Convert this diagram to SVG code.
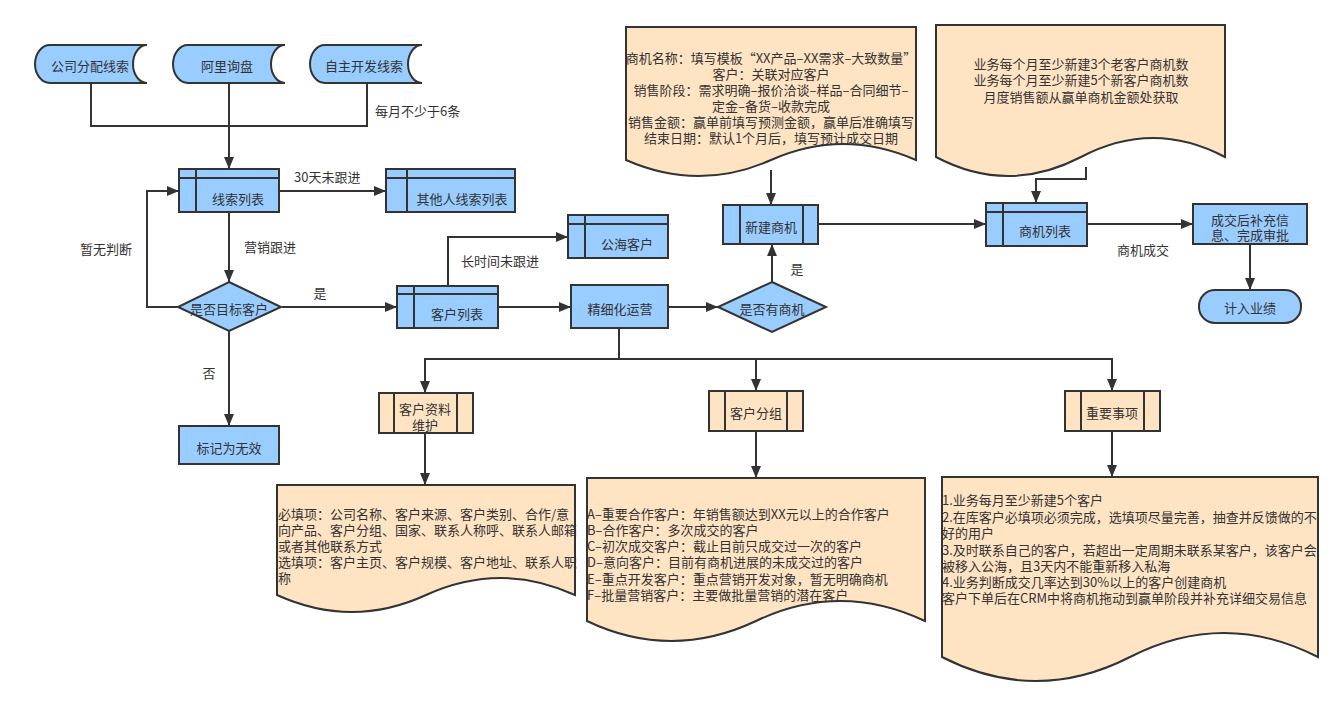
<svg xmlns="http://www.w3.org/2000/svg" width="1342" height="707" viewBox="0 0 1342 707">
<defs>
<marker id="arr" viewBox="0 0 12 10" refX="12" refY="5" markerWidth="12" markerHeight="10" markerUnits="userSpaceOnUse" orient="auto">
<path d="M0,0 L12,5 L0,10 Z" fill="#333333"/>
</marker>
<style>
.b{fill:#99CCFF;stroke:#333333;stroke-width:2}
.p{fill:#FFE4C4;stroke:#333333;stroke-width:2}
.ln{fill:none;stroke:#333333;stroke-width:2}
.c{fill:none;stroke:#333333;stroke-width:2}
.ca{fill:none;stroke:#333333;stroke-width:2;marker-end:url(#arr)}
text{font-family:"Noto Sans CJK SC","Noto Sans",sans-serif;font-size:13px;fill:#333333;dominant-baseline:central}
.m{text-anchor:middle}
</style>
</defs>
<rect width="1342" height="707" fill="#ffffff"/>

<g id="connectors">
<path class="c" d="M91,83 V126 H367 V83"/>
<path class="ca" d="M229,83 V169"/>
<path class="ca" d="M279,191 H386"/>
<path class="ca" d="M229,212 V282"/>
<path class="ca" d="M178,307 H147 V191 H179"/>
<path class="ca" d="M229,331 V426"/>
<path class="ca" d="M282,307 H397"/>
<path class="ca" d="M448,286 V237 H568"/>
<path class="ca" d="M498,307 H571"/>
<path class="ca" d="M668,307 H718"/>
<path class="ca" d="M772,282 V244"/>
<path class="ca" d="M771,170 V205"/>
<path class="ca" d="M818,224 H986"/>
<path class="ca" d="M1086,167 V179 H1036 V203"/>
<path class="ca" d="M1087,224 H1193"/>
<path class="ca" d="M1250,244 V290"/>
<path class="ca" d="M619,328 V359 H425 V393"/>
<path class="ca" d="M619,359 H756 V391"/>
<path class="ca" d="M756,359 H1112 V391"/>
<path class="ca" d="M425,433 V485"/>
<path class="ca" d="M756,431 V478"/>
<path class="ca" d="M1112,431 V477"/>
<text x="375" y="110">每月不少于6条</text>
<text x="294" y="176">30天未跟进</text>
<text x="80" y="248">暂无判断</text>
<text x="244" y="246">营销跟进</text>
<text class="m" x="320" y="292">是</text>
<text class="m" x="209" y="372">否</text>
<text x="461" y="260">长时间未跟进</text>
<text class="m" x="797" y="268">是</text>
<text x="1117" y="249">商机成交</text>
</g>

<g id="n-src1">
<path class="b" d="M50,45 H147 A14,19 0 0 0 147,83 H50 A15,19 0 0 1 50,45 Z"/>
<text class="m" x="90" y="65">公司分配线索</text>
</g>
<g id="n-src2">
<path class="b" d="M188,45 H285 A14,19 0 0 0 285,83 H188 A15,19 0 0 1 188,45 Z"/>
<text class="m" x="227" y="65">阿里询盘</text>
</g>
<g id="n-src3">
<path class="b" d="M325,45 H422 A14,19 0 0 0 422,83 H325 A15,19 0 0 1 325,45 Z"/>
<text class="m" x="364" y="65">自主开发线索</text>
</g>

<g id="n-leads">
<rect class="b" x="179" y="169" width="100" height="43"/>
<path class="ln" d="M179,178 H279 M196,169 V212"/>
<text class="m" x="238" y="198">线索列表</text>
</g>
<g id="n-others">
<rect class="b" x="386" y="169" width="129" height="43"/>
<path class="ln" d="M386,178 H515 M407,169 V212"/>
<text class="m" x="462" y="198">其他人线索列表</text>
</g>
<g id="n-target">
<path class="b" d="M229,282 L281,307 L229,331 L178,307 Z"/>
<text class="m" x="229" y="308">是否目标客户</text>
</g>
<g id="n-invalid">
<rect class="b" x="179" y="426" width="100" height="38"/>
<text class="m" x="229" y="447">标记为无效</text>
</g>
<g id="n-customers">
<rect class="b" x="397" y="286" width="101" height="42"/>
<path class="ln" d="M397,294 H498 M414,286 V328"/>
<text class="m" x="457" y="313">客户列表</text>
</g>
<g id="n-pool">
<rect class="b" x="568" y="215" width="100" height="43"/>
<path class="ln" d="M568,224 H668 M585,215 V258"/>
<text class="m" x="627" y="243">公海客户</text>
</g>
<g id="n-ops">
<rect class="b" x="571" y="285" width="97" height="43"/>
<text class="m" x="620" y="308">精细化运营</text>
</g>
<g id="n-hasopp">
<path class="b" d="M772,282 L826,307 L772,332 L718,307 Z"/>
<text class="m" x="772" y="308">是否有商机</text>
</g>
<g id="n-newopp">
<rect class="b" x="723" y="205" width="95" height="39"/>
<path class="ln" d="M740,205 V244 M803,205 V244"/>
<text class="m" x="771" y="226">新建商机</text>
</g>
<g id="n-oppdoc">
<path class="p" d="M626,27 H916 V160 Q843,128 771,160 Q699,192 626,160 Z"/>
<text class="m" x="771" y="57">商机名称：填写模板“XX产品–XX需求–大致数量”</text>
<text class="m" x="771" y="73">客户：关联对应客户</text>
<text class="m" x="771" y="89">销售阶段：需求明确–报价洽谈–样品–合同细节–</text>
<text class="m" x="771" y="105">定金–备货–收款完成</text>
<text class="m" x="771" y="121">销售金额：赢单前填写预测金额，赢单后准确填写</text>
<text class="m" x="771" y="137">结束日期：默认1个月后，填写预计成交日期</text>
</g>
<g id="n-kpidoc">
<path class="p" d="M936,25 H1225 V157 Q1153,119 1081,157 Q1008,195 936,157 Z"/>
<text class="m" x="1081" y="63">业务每个月至少新建3个老客户商机数</text>
<text class="m" x="1081" y="79">业务每个月至少新建5个新客户商机数</text>
<text class="m" x="1081" y="96">月度销售额从赢单商机金额处获取</text>
</g>
<g id="n-opplist">
<rect class="b" x="986" y="203" width="101" height="43"/>
<path class="ln" d="M986,212 H1087 M1003,203 V246"/>
<text class="m" x="1045" y="230">商机列表</text>
</g>
<g id="n-approve">
<rect class="b" x="1193" y="204" width="114" height="40"/>
<text class="m" x="1250" y="219">成交后补充信</text>
<text class="m" x="1250" y="234">息、完成审批</text>
</g>
<g id="n-perf">
<rect class="b" x="1199" y="290" width="102" height="33" rx="16" ry="16"/>
<text class="m" x="1250" y="307">计入业绩</text>
</g>

<g id="n-profile">
<rect class="p" x="379" y="393" width="94" height="40"/>
<path class="ln" d="M394,393 V433 M457,393 V433"/>
<text class="m" x="425" y="408">客户资料</text>
<text class="m" x="425" y="424">维护</text>
</g>
<g id="n-profiledoc">
<path class="p" d="M277,485 H575 V595 Q501,561 426,595 Q352,629 277,595 Z"/>
<text x="278" y="513">必填项：公司名称、客户来源、客户类别、合作/意</text>
<text x="278" y="529">向产品、客户分组、国家、联系人称呼、联系人邮箱</text>
<text x="278" y="545">或者其他联系方式</text>
<text x="278" y="561">选填项：客户主页、客户规模、客户地址、联系人职</text>
<text x="278" y="577">称</text>
</g>
<g id="n-group">
<rect class="p" x="709" y="391" width="94" height="40"/>
<path class="ln" d="M725,391 V431 M787,391 V431"/>
<text class="m" x="756" y="412">客户分组</text>
</g>
<g id="n-groupdoc">
<path class="p" d="M587,478 H925 V621 Q840,581 756,621 Q671,661 587,621 Z"/>
<text x="587" y="513">A–重要合作客户：年销售额达到XX元以上的合作客户</text>
<text x="587" y="529">B–合作客户：多次成交的客户</text>
<text x="587" y="545">C–初次成交客户：截止目前只成交过一次的客户</text>
<text x="587" y="561">D–意向客户：目前有商机进展的未成交过的客户</text>
<text x="587" y="578">E–重点开发客户：重点营销开发对象，暂无明确商机</text>
<text x="587" y="594">F–批量营销客户：主要做批量营销的潜在客户</text>
</g>
<g id="n-notes">
<rect class="p" x="1065" y="391" width="95" height="40"/>
<path class="ln" d="M1081,391 V431 M1144,391 V431"/>
<text class="m" x="1112" y="412">重要事项</text>
</g>
<g id="n-notesdoc">
<path class="p" d="M942,477 H1318 V657 Q1224,609 1130,657 Q1036,705 942,657 Z"/>
<text x="942" y="499">1.业务每月至少新建5个客户</text>
<text x="942" y="516">2.在库客户必填项必须完成，选填项尽量完善，抽查并反馈做的不</text>
<text x="942" y="532">好的用户</text>
<text x="942" y="549">3.及时联系自己的客户，若超出一定周期未联系某客户，该客户会</text>
<text x="942" y="565">被移入公海，且3天内不能重新移入私海</text>
<text x="942" y="581">4.业务判断成交几率达到30%以上的客户创建商机</text>
<text x="942" y="597">客户下单后在CRM中将商机拖动到赢单阶段并补充详细交易信息</text>
</g>
</svg>
